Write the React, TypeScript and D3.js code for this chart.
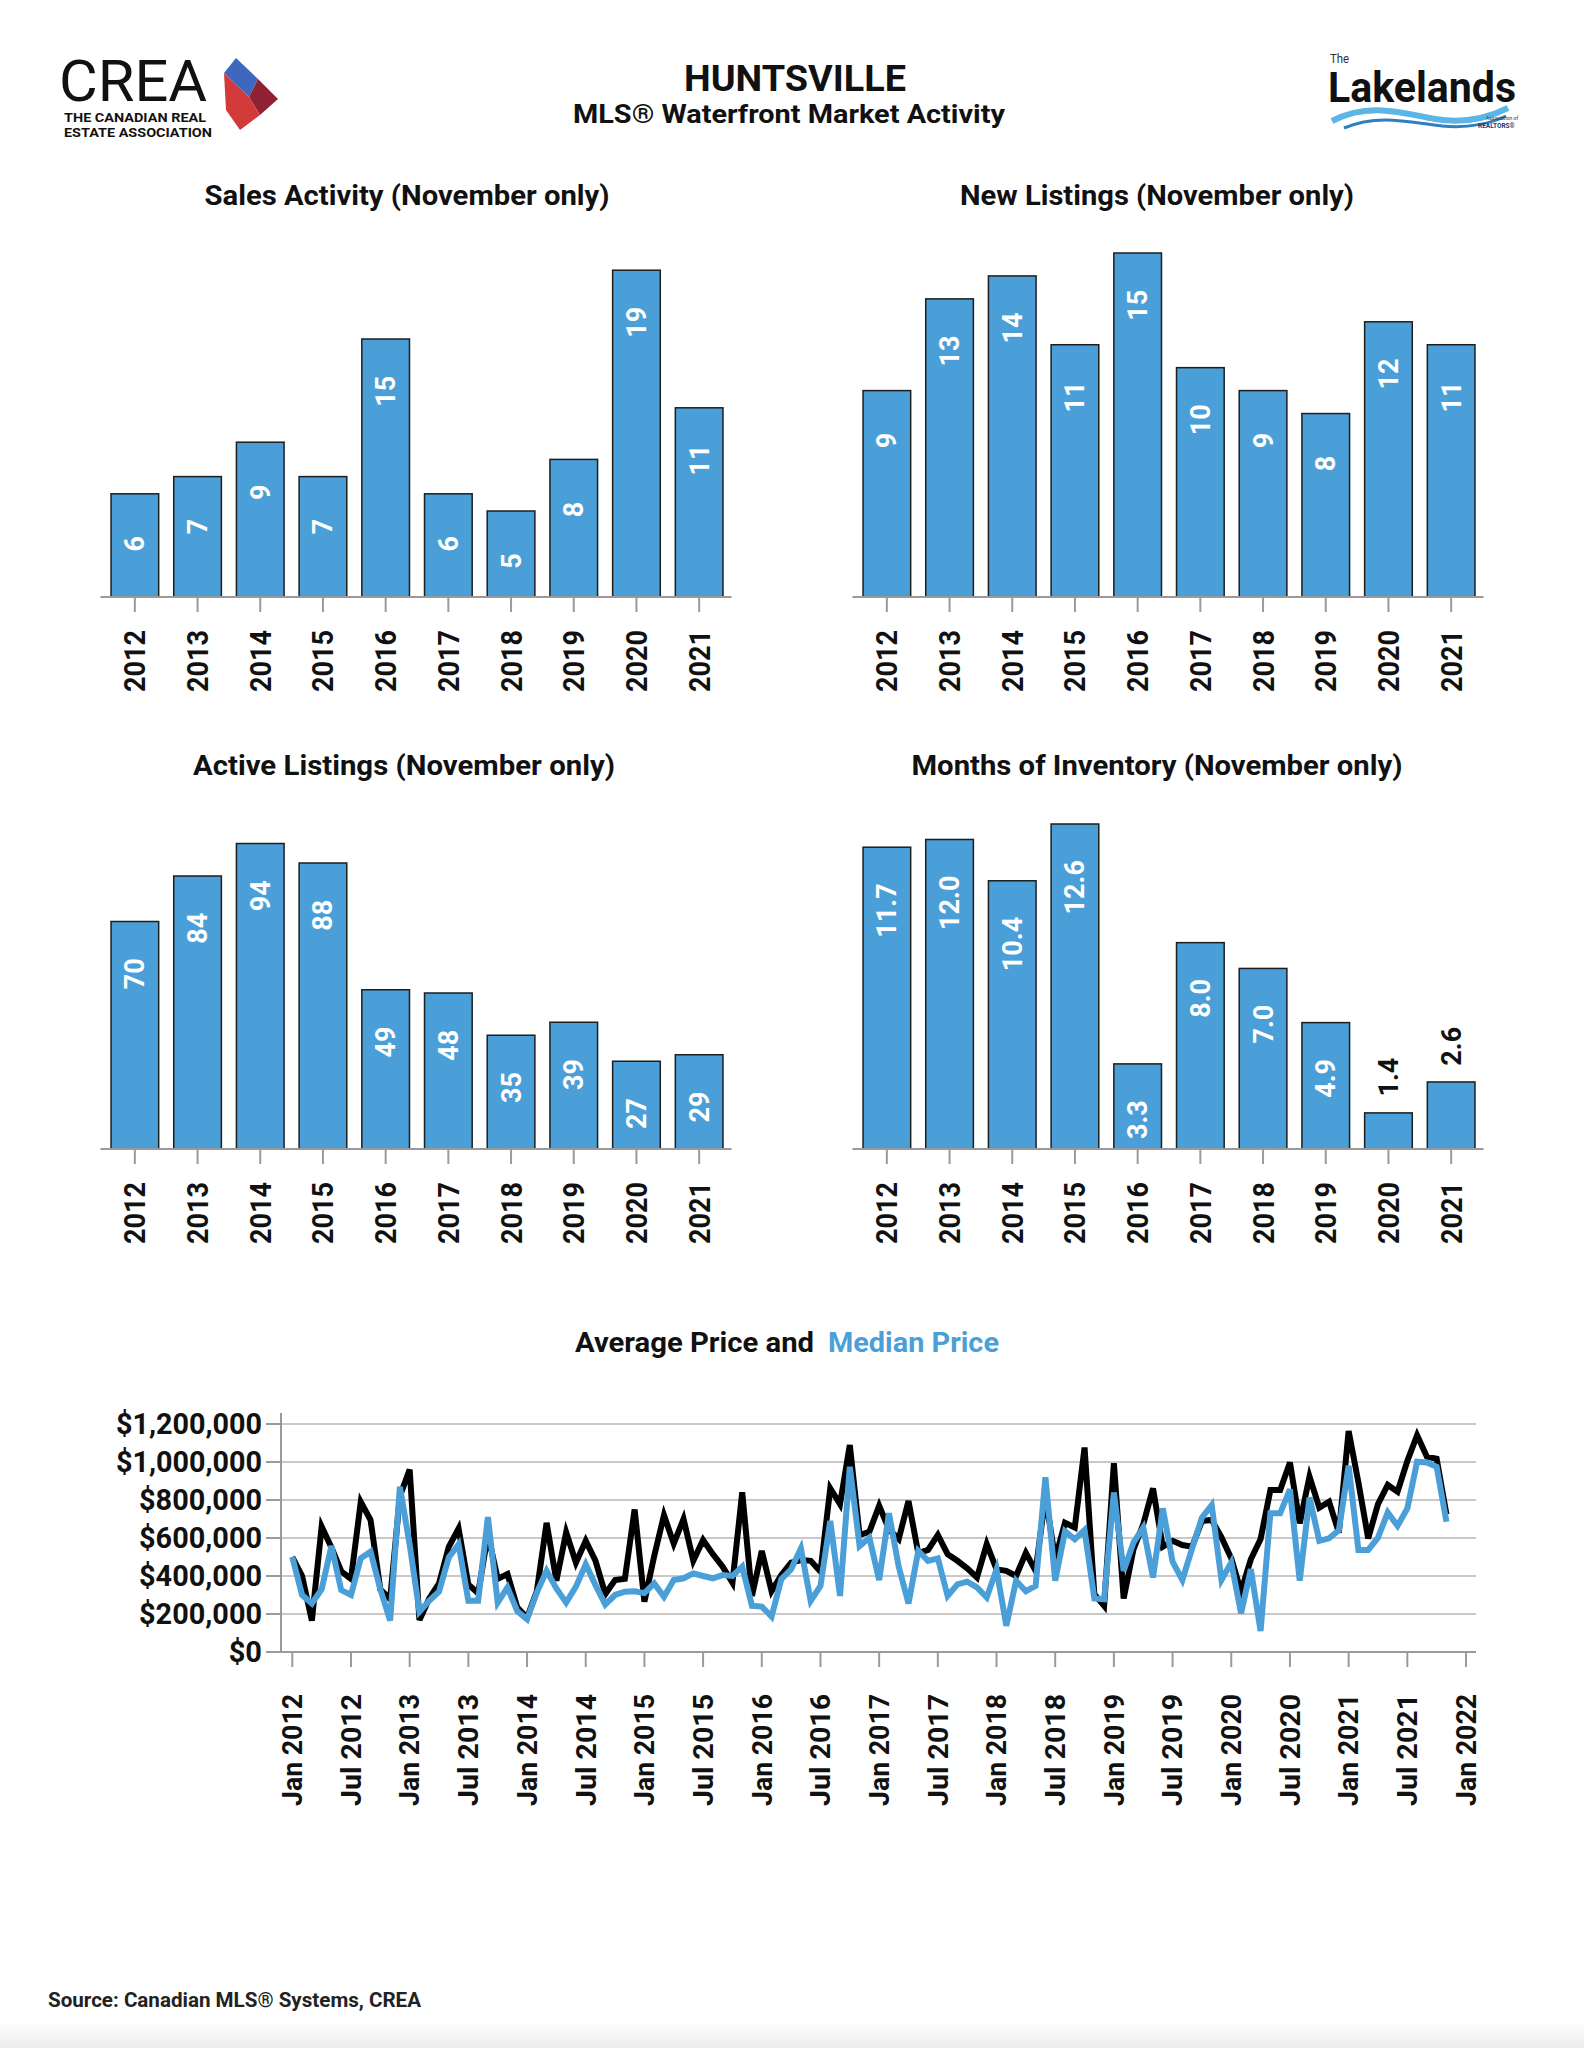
import React from 'react';
import * as d3 from 'd3';

const years = ['2012', '2013', '2014', '2015', '2016', '2017', '2018', '2019', '2020', '2021'];
const salesActivity = [6, 7, 9, 7, 15, 6, 5, 8, 19, 11];
const newListings = [9, 13, 14, 11, 15, 10, 9, 8, 12, 11];
const activeListings = [70, 84, 94, 88, 49, 48, 35, 39, 27, 29];
const monthsOfInventory = [11.7, 12.0, 10.4, 12.6, 3.3, 8.0, 7.0, 4.9, 1.4, 2.6];

// Monthly prices, Jan 2012 .. Nov 2021, in thousands of dollars
const averagePriceK = [
  500, 400, 165, 660, 550, 425, 385, 790, 695, 330, 278, 820,
  960, 168, 282, 361, 554, 650, 355, 309, 620, 385, 410, 235,
  180, 320, 680, 375, 630, 470, 585, 480, 305, 379, 385, 750,
  265, 505, 720, 570, 700, 480, 589, 515, 449, 365, 840, 295,
  532, 320, 405, 470, 484, 480, 423, 861, 778, 1089, 615, 633,
  770, 645, 595, 795, 520, 537, 616, 515, 480, 440, 392, 568,
  435, 427, 400, 522, 427, 820, 490, 680, 655, 1076, 305, 243,
  993, 282, 540, 672, 861, 554, 585, 563, 554, 690, 695, 603,
  493, 318, 488, 595, 852, 852, 997, 677, 923, 760, 791, 628,
  1163, 892, 598, 778, 879, 844, 1005, 1141, 1028, 1017, 725,
];
const medianPriceK = [
  500, 300, 255, 330, 558, 326, 300, 493, 528, 330, 165, 870,
  565, 212, 270, 318, 498, 567, 270, 270, 710, 260, 340, 215,
  172, 313, 427, 335, 260, 344, 462, 352, 250, 300, 317, 320,
  310, 361, 291, 379, 388, 414, 400, 388, 405, 400, 449, 243,
  239, 186, 384, 435, 545, 269, 348, 690, 295, 975, 558, 602,
  379, 730, 449, 256, 532, 480, 493, 295, 356, 370, 340, 287,
  435, 138, 375, 320, 348, 920, 375, 635, 593, 642, 282, 278,
  840, 427, 576, 655, 392, 756, 475, 379, 545, 707, 773, 379,
  471, 204, 436, 110, 730, 730, 856, 375, 813, 585, 598, 641,
  980, 537, 537, 602, 734, 664, 756, 1001, 997, 975, 686,
];
const priceTicks = [0, 200000, 400000, 600000, 800000, 1000000, 1200000];
const monthTickLabels = [
  'Jan 2012', 'Jul 2012', 'Jan 2013', 'Jul 2013', 'Jan 2014', 'Jul 2014', 'Jan 2015',
  'Jul 2015', 'Jan 2016', 'Jul 2016', 'Jan 2017', 'Jul 2017', 'Jan 2018', 'Jul 2018',
  'Jan 2019', 'Jul 2019', 'Jan 2020', 'Jul 2020', 'Jan 2021', 'Jul 2021', 'Jan 2022',
];

const FONT = 'Roboto, "DejaVu Sans", sans-serif';
const BLUE = '#4a9fd8';
const AXIS = '#9a9a9a';

type PanelProps = {
  title: string;
  titleX: number;
  titleY: number;
  titleLen: number;
  values: number[];
  fmt: (v: number) => string;
  x0: number;
  x1: number;
  yBase: number;
  yTop: number;
  yMax: number;
};

function ems(s: string) {
  let w = 0;
  for (const c of s) w += c === '.' ? 0.26 : c === ',' ? 0.22 : 0.562;
  return w;
}

function BarPanel({ title, titleX, titleY, titleLen, values, fmt, x0, x1, yBase, yTop, yMax }: PanelProps) {
  const x = d3.scaleBand<string>().domain(years).range([x0, x1]).paddingInner(0.24).paddingOuter(0.12);
  const y = d3.scaleLinear().domain([0, yMax]).range([yBase, yTop]);
  const bw = x.bandwidth();
  return (
    <g>
      <text x={titleX} y={titleY} textAnchor="middle" fontSize={27} fontWeight={700} fill="#111"
        textLength={titleLen} lengthAdjust="spacingAndGlyphs">{title}</text>
      {values.map((v, i) => {
        const yr = years[i];
        const bx = x(yr) as number;
        const top = y(v);
        const h = yBase - top;
        const label = fmt(v);
        const L = ems(label) * 27;
        const inside = h >= L + 40;
        const cx = bx + bw / 2;
        const cy = inside ? top + Math.max(50, 37 + L / 2) : top - 17 - L / 2;
        return (
          <g key={yr}>
            <rect x={bx} y={top} width={bw} height={h} fill={BLUE} stroke="#1e1e1e" strokeWidth={1.5} />
            <text transform={`translate(${cx},${cy}) rotate(-90)`}
              textAnchor="middle" dy="0.35em" fill={inside ? '#ffffff' : '#111'}
              fontSize={27} fontWeight={700}>{label}</text>
          </g>
        );
      })}
      <line x1={x0 - 3} x2={x1 + 1} y1={yBase} y2={yBase} stroke={AXIS} strokeWidth={2} />
      {years.map((yr) => {
        const cx = (x(yr) as number) + bw / 2;
        return (
          <g key={'t' + yr}>
            <line x1={cx} x2={cx} y1={yBase} y2={yBase + 15} stroke={AXIS} strokeWidth={2} />
            <text transform={`translate(${cx},${yBase + 33}) rotate(-90)`} textAnchor="end" dy="0.35em"
              fontSize={30} fontWeight={700} fill="#111" textLength={62} lengthAdjust="spacingAndGlyphs">{yr}</text>
          </g>
        );
      })}
    </g>
  );
}

function PriceChart() {
  const x = d3.scaleLinear().domain([0, 120]).range([292.3, 1466]);
  const y = d3.scaleLinear().domain([0, 1200000]).range([1652, 1424]);
  const line = d3.line<number>().x((_, i) => x(i)).y((d) => y(d * 1000));
  const fmtMoney = (v: number) => '$' + d3.format(',')(v);
  const xLeft = 281;
  const xRight = 1476;
  return (
    <g>
      <text y={1352} fontSize={27} fontWeight={700}>
        <tspan x={575} fill="#111" textLength={239} lengthAdjust="spacingAndGlyphs">Average Price and</tspan>
      </text>
      <text y={1352} fontSize={27} fontWeight={700}>
        <tspan x={828} fill={BLUE} textLength={171} lengthAdjust="spacingAndGlyphs">Median Price</tspan>
      </text>
      {priceTicks.map((t) => {
        const lab = fmtMoney(t);
        return (
          <g key={t}>
            {t > 0 && <line x1={xLeft} x2={xRight} y1={y(t)} y2={y(t)} stroke="#c9c9c9" strokeWidth={2} />}
            <line x1={xLeft - 15} x2={xLeft} y1={y(t)} y2={y(t)} stroke={AXIS} strokeWidth={2} />
            <text x={262} y={y(t)} dy="0.35em" textAnchor="end" fontSize={29.5} fontWeight={700} fill="#111"
              textLength={ems(lab) * 29.6} lengthAdjust="spacingAndGlyphs">
              {lab}
            </text>
          </g>
        );
      })}
      <line x1={xLeft} x2={xRight} y1={y(0)} y2={y(0)} stroke={AXIS} strokeWidth={2} />
      <line x1={xLeft} x2={xLeft} y1={1413} y2={y(0)} stroke={AXIS} strokeWidth={2} />
      {monthTickLabels.map((lab, k) => {
        const px = x(k * 6);
        return (
          <g key={lab}>
            <line x1={px} x2={px} y1={y(0)} y2={y(0) + 15} stroke={AXIS} strokeWidth={2} />
            <text transform={`translate(${px},1694) rotate(-90)`} textAnchor="end" dy="0.35em" fontSize={28}
              fontWeight={700} fill="#111" textLength={112} lengthAdjust="spacingAndGlyphs">{lab}</text>
          </g>
        );
      })}
      <path d={line(averagePriceK) || ''} fill="none" stroke="#000" strokeWidth={6} strokeLinejoin="miter" />
      <path d={line(medianPriceK) || ''} fill="none" stroke={BLUE} strokeWidth={6} strokeLinejoin="miter" />
    </g>
  );
}

function Header() {
  return (
    <g>
      {/* CREA logo */}
      <text x={59} y={101} fontSize={57} fontWeight={400} fill="#111" textLength={148}
        lengthAdjust="spacingAndGlyphs">CREA</text>
      <text x={64} y={122} fontSize={12} fontWeight={700} fill="#111" textLength={142}
        lengthAdjust="spacingAndGlyphs">THE CANADIAN REAL</text>
      <text x={64} y={137} fontSize={12} fontWeight={700} fill="#111" textLength={148}
        lengthAdjust="spacingAndGlyphs">ESTATE ASSOCIATION</text>
      <polygon points="236,58 258,79 249,97 224,73" fill="#3f67c0" />
      <polygon points="258,79 278,99 260,115 249,97" fill="#8e2233" />
      <polygon points="249,97 260,115 240,130 226,110 224,73" fill="#d23a3a" />

      {/* Title */}
      <text x={795} y={91} textAnchor="middle" fontSize={36} fontWeight={700} fill="#111" textLength={222}
        lengthAdjust="spacingAndGlyphs">HUNTSVILLE</text>
      <text x={789} y={123} textAnchor="middle" fontSize={25} fontWeight={700} fill="#111" textLength={432}
        lengthAdjust="spacingAndGlyphs">MLS® Waterfront Market Activity</text>

      {/* Lakelands logo */}
      <text x={1330} y={63} fontSize={13} fontWeight={400} fill="#333" textLength={19}
        lengthAdjust="spacingAndGlyphs">The</text>
      <text x={1328} y={102} fontSize={43} fontWeight={700} fill="#111" textLength={188}
        lengthAdjust="spacingAndGlyphs">Lakelands</text>
      <path d="M1332,121 C1370,101 1405,114 1435,119 C1465,124 1490,117 1508,108" fill="none"
        stroke="#5bb6e6" strokeWidth={6} />
      <path d="M1344,128 C1380,113 1412,123 1442,126 C1470,129 1494,122 1506,116" fill="none"
        stroke="#2c7fc2" strokeWidth={3} />
      <text x={1486} y={120} fontSize={5} fill="#333">Association of</text>
      <text x={1478} y={128} fontSize={6.5} fontWeight={700} fill="#1b3a6b">REALTORS®</text>
    </g>
  );
}

export default function App() {
  const f0 = d3.format('d');
  const f1 = d3.format('.1f');
  return (
    <svg width={1584} height={2048} viewBox="0 0 1584 2048"
      style={{ position: 'absolute', left: 0, top: 0, display: 'block' }} fontFamily={FONT}>
      <defs>
        <linearGradient id="bottomFade" x1="0" y1="0" x2="0" y2="1">
          <stop offset="0" stopColor="#ffffff" />
          <stop offset="1" stopColor="#ececec" />
        </linearGradient>
      </defs>
      <rect x={0} y={0} width={1584} height={2048} fill="#ffffff" />
      <rect x={0} y={2022} width={1584} height={26} fill="url(#bottomFade)" />
      <Header />
      <BarPanel title="Sales Activity (November only)" titleX={407} titleY={205} titleLen={405}
        values={salesActivity} fmt={f0} x0={103.5} x1={730.5} yBase={597} yTop={253} yMax={20} />
      <BarPanel title="New Listings (November only)" titleX={1157} titleY={205} titleLen={394}
        values={newListings} fmt={f0} x0={855.5} x1={1482.5} yBase={597} yTop={253} yMax={15} />
      <BarPanel title="Active Listings (November only)" titleX={404} titleY={775} titleLen={422}
        values={activeListings} fmt={f0} x0={103.5} x1={730.5} yBase={1149} yTop={824} yMax={100} />
      <BarPanel title="Months of Inventory (November only)" titleX={1157} titleY={775} titleLen={491}
        values={monthsOfInventory} fmt={f1} x0={855.5} x1={1482.5} yBase={1149} yTop={824} yMax={12.6} />
      <PriceChart />
      <text x={48} y={2007} fontSize={20} fontWeight={700} fill="#222" textLength={373}
        lengthAdjust="spacingAndGlyphs">Source: Canadian MLS® Systems, CREA</text>
    </svg>
  );
}
